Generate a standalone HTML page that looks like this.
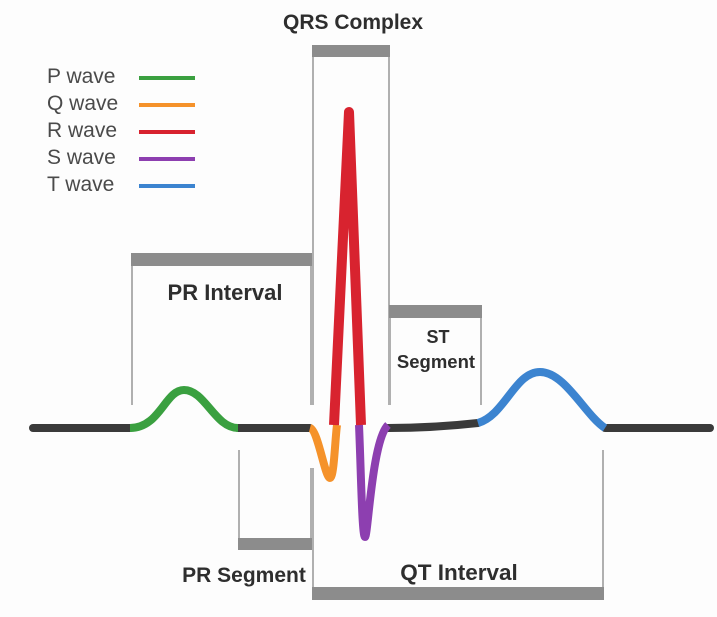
<!DOCTYPE html>
<html><head><meta charset="utf-8">
<style>
html,body{margin:0;padding:0;background:#fdfdfd;}
svg{display:block;font-family:"Liberation Sans",sans-serif;}
.lbl{font-weight:bold;fill:#2e2e2e;font-size:21px;text-anchor:middle;}
.leg{fill:#4a4a4a;font-size:21px;}
</style></head>
<body>
<svg width="717" height="617" viewBox="0 0 717 617">
<g id="boxes" fill="none" stroke="#b0b0b0" stroke-width="2">
  <path d="M313,45 V405 M389,45 V405"/>
  <path d="M132,255 V405 M311,255 V405"/>
  <path d="M390,307 V405 M481,307 V405"/>
  <path d="M239,450 V550 M311,468 V550"/>
  <path d="M313,468 V600 M603,450 V600"/>
</g>
<g fill="#8c8c8c">
  <rect x="312" y="45" width="78" height="12"/>
  <rect x="131" y="253" width="181" height="13"/>
  <rect x="389" y="305" width="93" height="13"/>
  <rect x="238" y="538" width="74" height="12"/>
  <rect x="312" y="587" width="292" height="13"/>
</g>
<g id="trace" fill="none" stroke-width="8" stroke-linecap="round" stroke-linejoin="round"></g>
<text class="lbl" x="353" y="29">QRS Complex</text>
<text class="lbl" x="225" y="300" style="font-size:22px">PR Interval</text>
<text class="lbl" x="438" y="343" style="font-size:18px">ST</text>
<text class="lbl" x="436" y="368" style="font-size:18.5px">Segment</text>
<text class="lbl" x="244" y="582">PR Segment</text>
<text class="lbl" x="459" y="580" style="font-size:22.5px">QT Interval</text>
<g id="legend"></g>
</svg>
<script>
const waveNames = ["P wave","Q wave","R wave","S wave","T wave"];
const waveColors = ["#3aa040","#f5922a","#d8232f","#8d3fb0","#3c84d0"];
const baseX1 = [33,238,388,605];
const baseX2 = [130,310,478,710];
const pathsD = [
 "M130,428 C160,428 165,390 184,390 C205,390 215,428 238,428",
 "M310,428 C318,430 325,478 330,478 C334,478 335,440 337,425",
 "M334,425 L349,112 L361,425",
 "M359,425 C361,470 362,537 365,537 C368,537 372,440 388,425",
 "M478,423 C505,415 515,372 540,372 C565,372 585,415 605,428"
];
const ns="http://www.w3.org/2000/svg";
const trace=document.getElementById('trace');
for(let i=0;i<baseX1.length;i++){
  const l=document.createElementNS(ns,'path');
  const y2 = i===2 ? 423 : 428;
  l.setAttribute('d',`M${baseX1[i]},428 Q${(baseX1[i]+baseX2[i])/2},428 ${baseX2[i]},${y2}`);
  l.setAttribute('stroke','#3a3a3a');
  
  
  trace.appendChild(l);
}
const order=[0,1,3,2,4];
order.forEach(i=>{
  const p=document.createElementNS(ns,'path');
  p.setAttribute('d',pathsD[i]);
  p.setAttribute('stroke',waveColors[i]);
  p.setAttribute('stroke-linecap','butt');
  if(i===2){ p.setAttribute('stroke-width',10); p.setAttribute('stroke-linejoin','round'); }
  
  
  trace.appendChild(p);
});
const leg=document.getElementById('legend');
waveNames.forEach((n,i)=>{
  const y=76+i*27;
  const t=document.createElementNS(ns,'text');
  t.setAttribute('x',47);t.setAttribute('y',y+7);t.setAttribute('class','leg');
  t.textContent=n;
  
  
  leg.appendChild(t);
  const l=document.createElementNS(ns,'line');
  l.setAttribute('x1',139);l.setAttribute('x2',195);l.setAttribute('y1',y+2);l.setAttribute('y2',y+2);
  l.setAttribute('stroke',waveColors[i]);l.setAttribute('stroke-width',4);
  
  
  leg.appendChild(l);
});
</script>
</body></html>
